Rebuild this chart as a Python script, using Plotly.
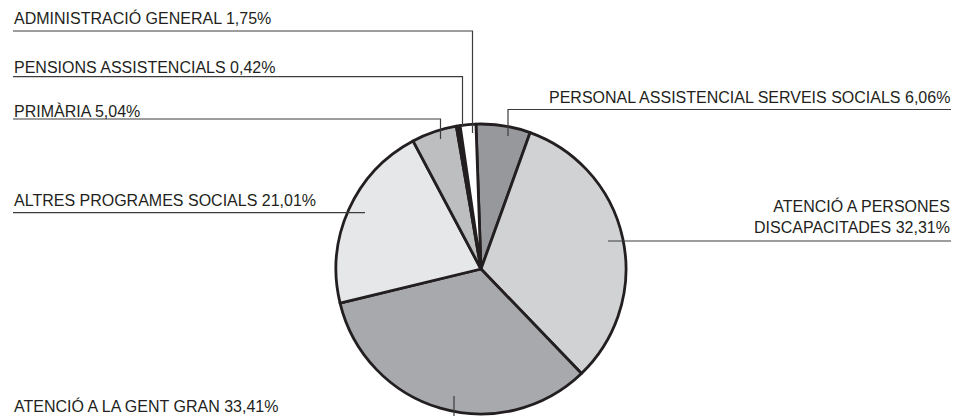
import plotly.graph_objects as go

# ---- data ----
categories = [
    "PERSONAL ASSISTENCIAL SERVEIS SOCIALS",
    "ATENCIÓ A PERSONES DISCAPACITADES",
    "ATENCIÓ A LA GENT GRAN",
    "ALTRES PROGRAMES SOCIALS",
    "PRIMÀRIA",
    "PENSIONS ASSISTENCIALS",
    "ADMINISTRACIÓ GENERAL",
]
values = [6.06, 32.31, 33.41, 21.01, 5.04, 0.42, 1.75]
slice_colors = ["#97989b", "#d1d2d4", "#a7a9ac", "#e6e7e8", "#bcbec0", "#231f20", "#ffffff"]

W, H = 953, 416
FS = 16
FONT = "Liberation Sans, Arial, Helvetica, sans-serif"
INK = "#231f20"


def px(x):
    return x / W


def py(y):
    return 1 - y / H


def fmt(v):
    return f"{v:.2f}".replace(".", ",") + "%"


label_text = [f"{c} {fmt(v)}" for c, v in zip(categories, values)]
label_text[1] = f"ATENCIÓ A PERSONES<br>DISCAPACITADES {fmt(values[1])}"

# label layout: (text x, baseline y, anchor, leader polyline in pixels)
label_layout = [
    (951, 104, "right", [(951, 109.5), (508, 109.5), (508, 136)]),
    (951, 234, "right", [(951, 241), (608, 241)]),
    (13, 413, "left", [(454, 396), (454, 417)]),
    (13, 206.5, "left", [(13, 212.7), (365, 212.7)]),
    (13, 117.3, "left", [(13, 119), (440.5, 119), (440.5, 139)]),
    (13, 74, "left", [(13, 76.7), (462.5, 76.7), (462.5, 126.7)]),
    (13, 25, "left", [(13, 31), (472.5, 31), (472.5, 133)]),
]

fig = go.Figure(
    go.Pie(
        labels=categories,
        values=values,
        sort=False,
        direction="clockwise",
        rotation=-2,
        marker=dict(colors=slice_colors, line=dict(color=INK, width=2.8)),
        textinfo="none",
        hoverinfo="label+percent",
        showlegend=False,
        domain=dict(x=[px(336), px(626)], y=[py(414), py(124)]),
    )
)

descent = 0.212 * FS
for txt, (tx, base, anchor, pts) in zip(label_text, label_layout):
    fig.add_annotation(
        x=px(tx), y=py(base + descent), xref="paper", yref="paper",
        text=txt, showarrow=False, xanchor=anchor, yanchor="bottom",
        align=anchor, borderpad=0,
        font=dict(family=FONT, size=FS, color=INK),
    )
    path = "M " + " L ".join(f"{px(x)},{py(y)}" for x, y in pts)
    fig.add_shape(type="path", path=path, xref="paper", yref="paper",
                  line=dict(color="#3c3c3c", width=1.2))

fig.update_layout(
    width=W, height=H,
    margin=dict(l=0, r=0, t=0, b=0),
    paper_bgcolor="white", plot_bgcolor="white",
)

fig.write_html(
    "out.html",
    config={"displayModeBar": False},
    post_script="document.body.style.margin='0';document.body.style.padding='0';",
)
